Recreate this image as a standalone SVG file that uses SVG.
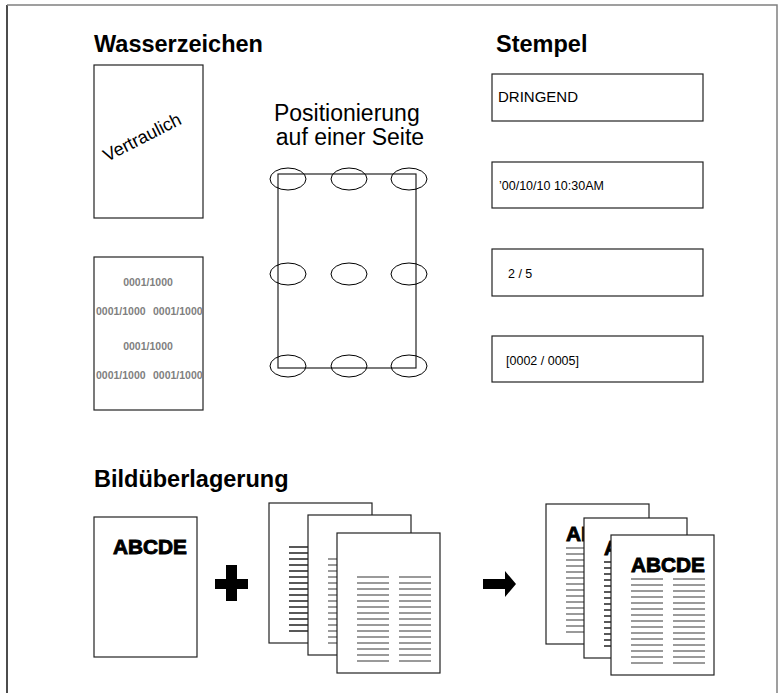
<svg xmlns="http://www.w3.org/2000/svg" xmlns:xlink="http://www.w3.org/1999/xlink" width="779" height="693" viewBox="0 0 779 693">
  <style>
    .frame { fill: none; stroke-width: 1.5; }
    .page { fill: #fff; stroke: #222; stroke-width: 1.2; }
    .heading { font-family: "Liberation Sans", Arial, sans-serif; font-weight: bold; font-size: 23.5px; fill: #000; }
    .label { font-family: "Liberation Sans", Arial, sans-serif; fill: #000; }
    .wm { font-family: "Liberation Sans", Arial, sans-serif; font-weight: bold; font-size: 10.5px; fill: #808080; }
    .spot { fill: none; stroke: #000; stroke-width: 1; }
    .big { font-family: "Liberation Sans", Arial, sans-serif; font-weight: bold; font-size: 21px; fill: #000; stroke: #000; stroke-width: 0.9; }
    .ln { stroke-width: 1.5; }
    .ln-gray { stroke: #7a7a7a; }
    .ln-dark { stroke: #222; }
  </style>
  <defs>
    <!-- two columns of 15 text lines, relative to a page's top-left corner -->
    <g id="textLines">
      <path d="M20 44H52M20 50H52M20 56H52M20 62H52M20 68H52M20 74H52M20 80H52M20 86H52M20 92H52M20 98H52M20 104H52M20 110H52M20 116H52M20 122H52M20 128H52
               M62 44H94M62 50H94M62 56H94M62 62H94M62 68H94M62 74H94M62 80H94M62 86H94M62 92H94M62 98H94M62 104H94M62 110H94M62 116H94M62 122H94M62 128H94"/>
    </g>
  </defs>

  <!-- outer frame -->
  <g id="frame">
    <line class="frame" x1="7" y1="5" x2="7" y2="693" stroke="#111"/>
    <polyline class="frame" points="7,5 777,5 777,693" stroke="#808080"/>
  </g>

  <!-- section headings -->
  <g id="headings">
    <text class="heading" x="94" y="52">Wasserzeichen</text>
    <text class="heading" x="496" y="52">Stempel</text>
    <text class="heading" x="94" y="487">Bildüberlagerung</text>
  </g>

  <!-- watermark samples -->
  <g id="watermark-text">
    <rect class="page" x="94" y="65" width="109" height="153"/>
    <text class="label" font-size="18" transform="translate(107,162) rotate(-27)">Vertraulich</text>
  </g>
  <g id="watermark-numbers">
    <rect class="page" x="94" y="257" width="109" height="153"/>
    <text class="wm" x="148" y="286" text-anchor="middle">0001/1000</text>
    <text class="wm" x="96" y="315">0001/1000</text>
    <text class="wm" x="153" y="315">0001/1000</text>
    <text class="wm" x="148" y="350" text-anchor="middle">0001/1000</text>
    <text class="wm" x="96" y="379">0001/1000</text>
    <text class="wm" x="153" y="379">0001/1000</text>
  </g>

  <!-- stamp positions on a page -->
  <g id="positions">
    <text class="label" font-size="23" text-anchor="middle">
      <tspan x="350" y="121">Positionierung</tspan>
      <tspan x="350" y="145">auf einer Seite</tspan>
    </text>
    <rect x="278" y="174" width="138" height="194" fill="none" stroke="#222" stroke-width="1.2"/>
    <ellipse class="spot" cx="288" cy="179" rx="18" ry="11"/>
    <ellipse class="spot" cx="349" cy="179" rx="18" ry="11"/>
    <ellipse class="spot" cx="409" cy="179" rx="18" ry="11"/>
    <ellipse class="spot" cx="288" cy="274" rx="18" ry="11"/>
    <ellipse class="spot" cx="349" cy="274" rx="18" ry="11"/>
    <ellipse class="spot" cx="409" cy="274" rx="18" ry="11"/>
    <ellipse class="spot" cx="288" cy="366" rx="18" ry="11"/>
    <ellipse class="spot" cx="349" cy="366" rx="18" ry="11"/>
    <ellipse class="spot" cx="409" cy="366" rx="18" ry="11"/>
  </g>

  <!-- stamp samples -->
  <g id="stamp-urgent">
    <rect class="page" x="492" y="74" width="211" height="47"/>
    <text class="label" font-size="15" x="498" y="102">DRINGEND</text>
  </g>
  <g id="stamp-date">
    <rect class="page" x="492" y="162" width="211" height="46"/>
    <text class="label" font-size="12.5" x="499" y="190">’00/10/10 10:30AM</text>
  </g>
  <g id="stamp-page">
    <rect class="page" x="492" y="249" width="211" height="47"/>
    <text class="label" font-size="12.5" x="508" y="278">2 / 5</text>
  </g>
  <g id="stamp-page-number">
    <rect class="page" x="492" y="336" width="211" height="46"/>
    <text class="label" font-size="12.5" x="506" y="365">[0002 / 0005]</text>
  </g>

  <!-- overlay: source image page -->
  <g id="overlay-image">
    <rect class="page" x="94" y="517" width="103" height="140"/>
    <text class="big" x="113" y="554" textLength="74" lengthAdjust="spacingAndGlyphs">ABCDE</text>
  </g>

  <g id="plus">
    <polygon points="226,565 237,565 237,579 248,579 248,589 237,589 237,601 226,601 226,589 215,589 215,579 226,579" fill="#000"/>
  </g>

  <!-- overlay: document pages -->
  <g id="document-pages">
    <rect class="page" x="269" y="503" width="103" height="140"/>
    <use xlink:href="#textLines" transform="translate(269,503)" class="ln ln-dark"/>
    <rect class="page" x="308" y="515" width="103" height="140"/>
    <use xlink:href="#textLines" transform="translate(308,515)" class="ln ln-gray"/>
    <rect class="page" x="337" y="533" width="103" height="140"/>
    <use xlink:href="#textLines" transform="translate(337,533)" class="ln ln-gray"/>
  </g>

  <g id="connectors">
    <polygon points="483,579 505,579 505,571 516,584 505,597 505,589 483,589" fill="#000"/>
  </g>

  <!-- overlay: result pages -->
  <g id="result-pages">
    <rect class="page" x="546" y="504" width="103" height="140"/>
    <text class="big" x="566" y="541" textLength="74" lengthAdjust="spacingAndGlyphs">ABCDE</text>
    <use xlink:href="#textLines" transform="translate(546,504)" class="ln ln-gray"/>
    <rect class="page" x="584" y="518" width="103" height="140"/>
    <text class="big" x="604" y="555" textLength="74" lengthAdjust="spacingAndGlyphs">ABCDE</text>
    <use xlink:href="#textLines" transform="translate(584,518)" class="ln ln-dark"/>
    <rect class="page" x="611" y="535" width="103" height="140"/>
    <text class="big" x="631" y="572" textLength="74" lengthAdjust="spacingAndGlyphs">ABCDE</text>
    <use xlink:href="#textLines" transform="translate(611,535)" class="ln ln-gray"/>
  </g>
</svg>
